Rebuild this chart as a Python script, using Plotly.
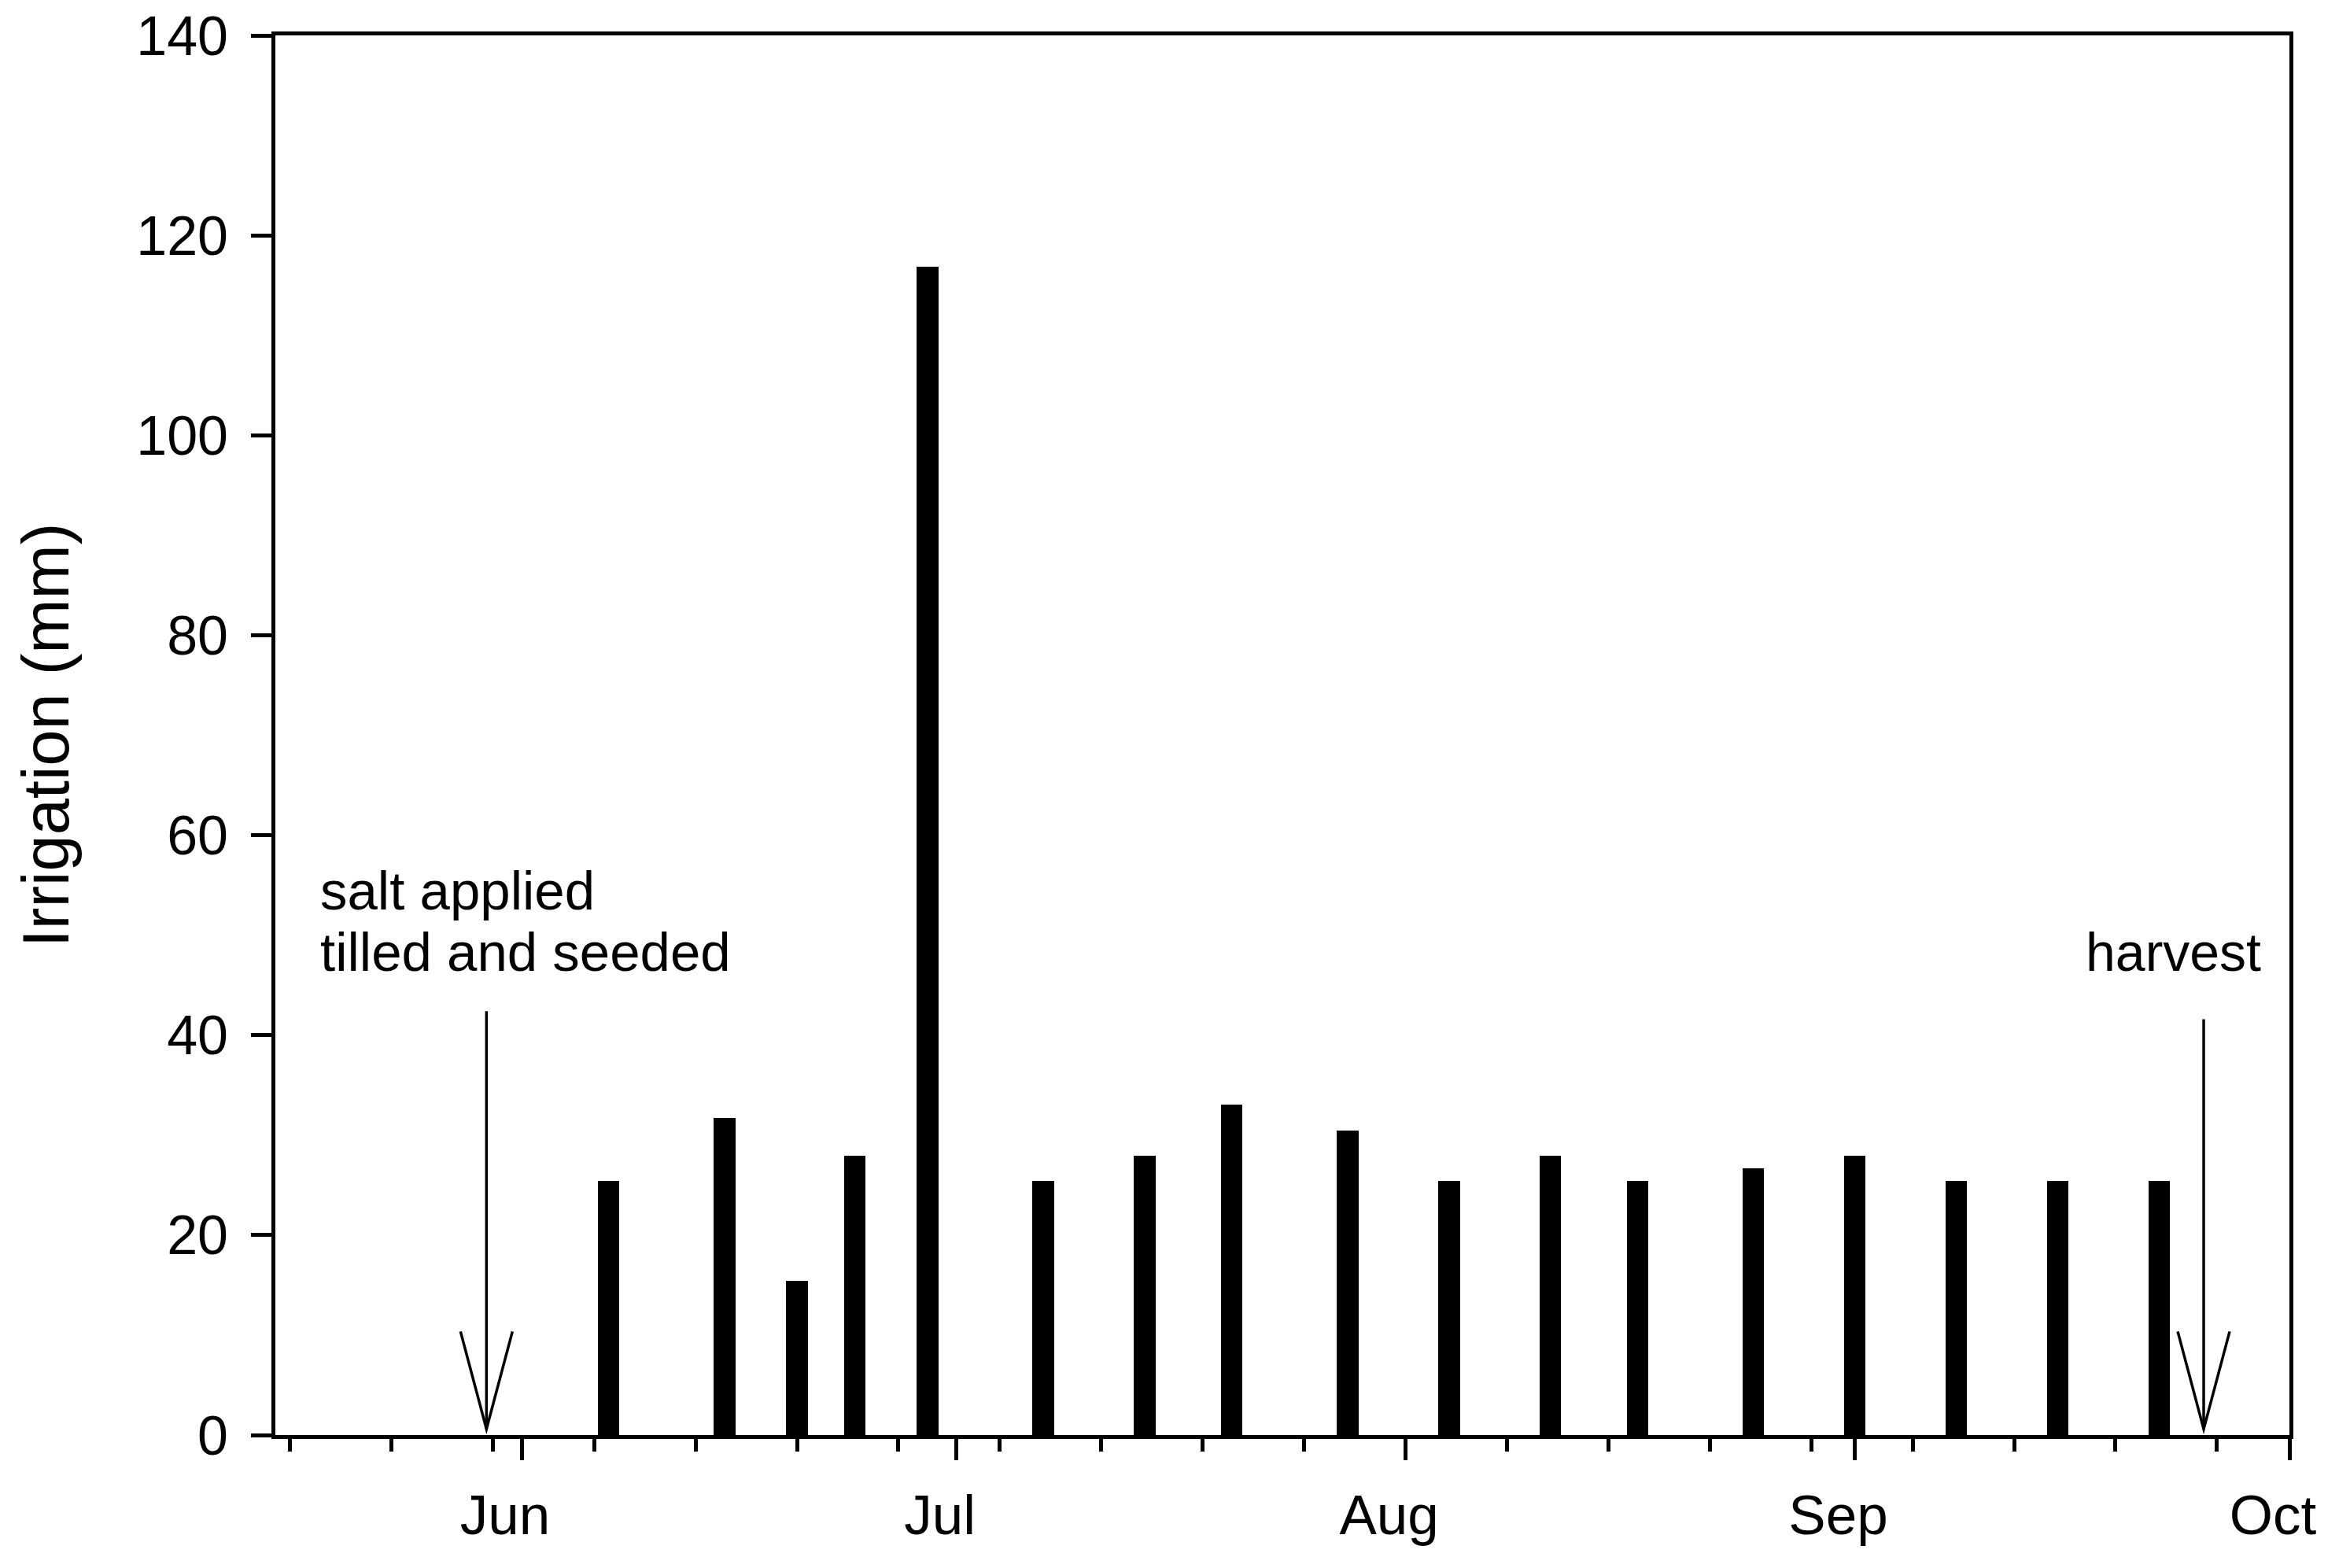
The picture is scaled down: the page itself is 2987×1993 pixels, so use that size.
import plotly.graph_objects as go

# ---- data ----
irr_dates = ["2004-06-07", "2004-06-15", "2004-06-20", "2004-06-24", "2004-06-29",
             "2004-07-07", "2004-07-14", "2004-07-20", "2004-07-28",
             "2004-08-04", "2004-08-11", "2004-08-17", "2004-08-25",
             "2004-09-01", "2004-09-08", "2004-09-15", "2004-09-22"]
irr_mm = [25.4, 31.75, 15.4, 27.94, 116.84,
          25.4, 27.94, 33.02, 30.48,
          25.4, 27.94, 25.4, 26.67,
          27.94, 25.4, 25.4, 25.4]

month_ticks = ["2004-06-01", "2004-07-01", "2004-08-01", "2004-09-01", "2004-10-01"]
month_labels = ["Jun", "Jul", "Aug", "Sep", "Oct"]
week_ticks = ["2004-05-16", "2004-05-23", "2004-05-30", "2004-06-06", "2004-06-13",
              "2004-06-20", "2004-06-27", "2004-07-04", "2004-07-11", "2004-07-18",
              "2004-07-25", "2004-08-01", "2004-08-08", "2004-08-15", "2004-08-22",
              "2004-08-29", "2004-09-05", "2004-09-12", "2004-09-19", "2004-09-26"]
y_ticks = [0, 20, 40, 60, 80, 100, 120, 140]

event_dates = ["2004-05-29 13:40", "2004-09-25 02:00"]
event_labels = [["salt applied", "tilled and seeded"], ["harvest"]]
event_arrow_top = [42.4, 41.6]
event_arrow_tip = [0.6, 0.6]

FONT = "Liberation Sans, Arial, sans-serif"
BAR_WIDTH_MS = 1.49 * 86400000

fig = go.Figure()
fig.add_trace(go.Bar(
    x=irr_dates, y=irr_mm, width=[BAR_WIDTH_MS] * len(irr_dates),
    marker=dict(color="black", line=dict(width=0)), showlegend=False,
))

shapes = []
for d, top, tip in zip(event_dates, event_arrow_top, event_arrow_tip):
    shapes.append(dict(type="line", xref="x", yref="y", x0=d, x1=d, y0=top, y1=tip,
                       line=dict(color="black", width=3.5)))
    shapes.append(dict(type="path", xref="x", yref="y", xsizemode="pixel", ysizemode="pixel",
                       xanchor=d, yanchor=tip, path="M -33,124 L 0,0 L 33,124",
                       line=dict(color="black", width=3.5)))

annotations = [
    dict(text=event_labels[0][0], x=event_dates[0], y=54.4, xref="x", yref="y",
         xanchor="left", yanchor="middle", xshift=-213, showarrow=False,
         font=dict(family=FONT, size=69, color="black")),
    dict(text=event_labels[0][1], x=event_dates[0], y=48.3, xref="x", yref="y",
         xanchor="left", yanchor="middle", xshift=-213, showarrow=False,
         font=dict(family=FONT, size=69, color="black")),
    dict(text=event_labels[1][0], x=event_dates[1], y=48.3, xref="x", yref="y",
         xanchor="center", yanchor="middle", xshift=-39, showarrow=False,
         font=dict(family=FONT, size=68, color="black")),
]

fig.update_layout(
    width=2971, height=1977, autosize=False,
    margin=dict(l=342, r=69, t=37, b=161, pad=0),
    paper_bgcolor="white", plot_bgcolor="white",
    font=dict(family=FONT, color="black"),
    shapes=shapes, annotations=annotations, bargap=0,
)
fig.update_xaxes(
    type="date", range=["2004-05-15", "2004-10-01"], automargin=False,
    tickmode="array", tickvals=month_ticks, ticktext=month_labels,
    ticks="outside", ticklen=27, tickwidth=4.5, tickcolor="black",
    ticklabelshift=-21, ticklabelstandoff=9, ticklabeloverflow="allow",
    tickfont=dict(family=FONT, size=71, color="black"),
    minor=dict(tickmode="array", tickvals=week_ticks, ticks="outside",
               ticklen=16, tickwidth=4.5, tickcolor="black", showgrid=False),
    showline=True, linewidth=5, linecolor="black", mirror=True,
    showgrid=False, zeroline=False,
)
fig.update_yaxes(
    range=[0, 140], tickmode="array", tickvals=y_ticks, automargin=False,
    ticks="outside", ticklen=26, tickwidth=4.7, tickcolor="black",
    ticklabelstandoff=15, ticklabeloverflow="allow",
    tickfont=dict(family=FONT, size=70, color="black"),
    showline=True, linewidth=5, linecolor="black", mirror=True,
    showgrid=False, zeroline=False,
    title=dict(text="Irrigation (mm)", font=dict(family=FONT, size=83, color="black"), standoff=60),
)

fig.write_html("out.html")
